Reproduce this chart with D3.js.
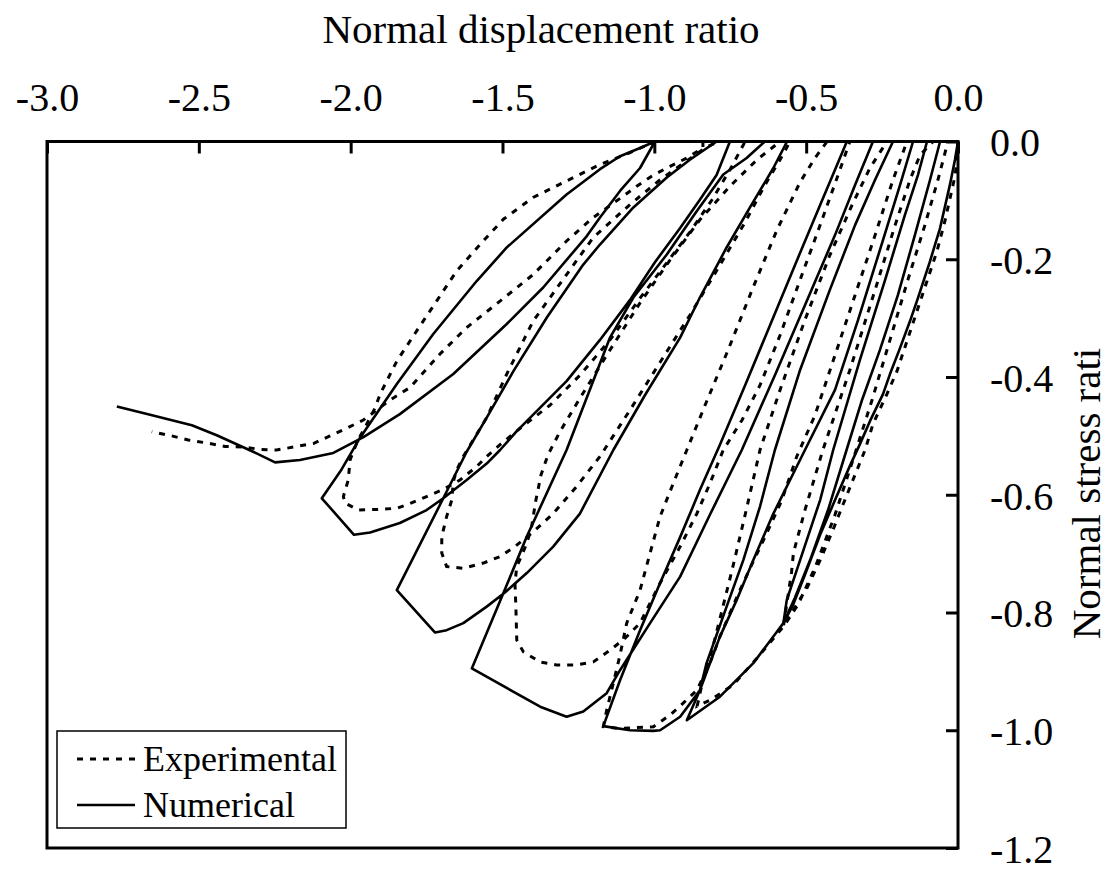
<!DOCTYPE html>
<html><head><meta charset="utf-8">
<script src="https://cdn.jsdelivr.net/npm/d3@7"></script>
<style>body{margin:0;background:#fff}</style>
</head><body>
<svg id="chart" width="1110" height="871"></svg>
<script>
// ---------- axis ticks ----------
const xTicks = [-3, -2.5, -2, -1.5, -1, -0.5, 0];
const xTickLabels = ["-3.0", "-2.5", "-2.0", "-1.5", "-1.0", "-0.5", "0.0"];
const yTicks = [0, -0.2, -0.4, -0.6, -0.8, -1.0, -1.2];
const yTickLabels = ["0.0", "-0.2", "-0.4", "-0.6", "-0.8", "-1.0", "-1.2"];

// ---------- Numerical (solid) : [displacement ratio, stress ratio] ----------
const numEnvelope = [[0,0],[-0.010,-0.031],[-0.026,-0.072],[-0.059,-0.147],[-0.092,-0.203],[-0.132,-0.266],[-0.158,-0.305],[-0.191,-0.351],[-0.224,-0.395],[-0.247,-0.429],[-0.290,-0.475],[-0.323,-0.514],[-0.356,-0.551],[-0.405,-0.609],[-0.454,-0.668],[-0.504,-0.736],[-0.543,-0.787],[-0.575,-0.818]];
const numCycleUnload = [[-0.564,-0.779],[-0.520,-0.711],[-0.454,-0.609],[-0.411,-0.524],[-0.323,-0.371],[-0.240,-0.235],[-0.175,-0.125],[-0.132,-0.057],[-0.102,0]];
const numCycleReload = [[-0.059,0],[-0.092,-0.065],[-0.142,-0.159],[-0.198,-0.261],[-0.257,-0.354],[-0.316,-0.439],[-0.367,-0.524],[-0.428,-0.626],[-0.487,-0.711],[-0.537,-0.775],[-0.575,-0.818]];
const numToPeak5 = [[-0.597,-0.833],[-0.674,-0.886],[-0.784,-0.943],[-0.893,-0.983]];
const numUnload5 = [[-0.850,-0.932],[-0.828,-0.886],[-0.762,-0.790],[-0.707,-0.711],[-0.652,-0.620],[-0.603,-0.524],[-0.520,-0.388],[-0.422,-0.252],[-0.339,-0.142],[-0.273,-0.065],[-0.214,0]];
const numReload4 = [[-0.148,0],[-0.191,-0.074],[-0.257,-0.184],[-0.329,-0.303],[-0.405,-0.422],[-0.504,-0.524],[-0.608,-0.632],[-0.674,-0.711],[-0.729,-0.779],[-0.784,-0.841],[-0.850,-0.932],[-0.915,-0.977],[-0.981,-1.000],[-1.003,-1.001],[-1.080,-1.000],[-1.168,-0.993]];
const numUnload4 = [[-1.113,-0.915],[-1.047,-0.830],[-0.981,-0.750],[-0.915,-0.672],[-0.850,-0.592],[-0.784,-0.515],[-0.701,-0.414],[-0.619,-0.312],[-0.537,-0.210],[-0.454,-0.108],[-0.405,-0.048],[-0.366,0]];
const numReload3 = [[-0.280,0],[-0.339,-0.074],[-0.405,-0.159],[-0.504,-0.278],[-0.603,-0.397],[-0.712,-0.524],[-0.817,-0.634],[-0.915,-0.739],[-1.014,-0.818],[-1.113,-0.898],[-1.157,-0.937],[-1.234,-0.968],[-1.289,-0.977],[-1.376,-0.960],[-1.601,-0.895]];
const numUnload3 = [[-1.497,-0.767],[-1.420,-0.671],[-1.289,-0.524],[-1.146,-0.333],[-1.069,-0.265],[-0.959,-0.192],[-0.860,-0.118],[-0.773,-0.056],[-0.696,-0.028],[-0.636,0]];
const numReload2 = [[-0.563,0],[-0.608,-0.045],[-0.685,-0.112],[-0.762,-0.180],[-0.850,-0.265],[-0.915,-0.333],[-1.031,-0.431],[-1.135,-0.524],[-1.245,-0.632],[-1.333,-0.688],[-1.420,-0.733],[-1.492,-0.766],[-1.552,-0.790],[-1.629,-0.818],[-1.684,-0.830],[-1.722,-0.834],[-1.848,-0.762]];
const numUnload2 = [[-1.695,-0.606],[-1.618,-0.527],[-1.552,-0.469],[-1.464,-0.390],[-1.354,-0.299],[-1.234,-0.209],[-1.179,-0.175],[-1.069,-0.112],[-0.959,-0.061],[-0.883,-0.031],[-0.795,0]];
const numReload1 = [[-0.751,0],[-0.795,-0.057],[-0.850,-0.099],[-0.915,-0.147],[-0.998,-0.205],[-1.080,-0.269],[-1.179,-0.337],[-1.289,-0.407],[-1.453,-0.492],[-1.508,-0.524],[-1.552,-0.547],[-1.618,-0.575],[-1.695,-0.606],[-1.750,-0.626],[-1.838,-0.648],[-1.936,-0.664],[-1.989,-0.668],[-2.095,-0.606]];
const numUnload1 = [[-2.030,-0.557],[-1.969,-0.503],[-1.848,-0.412],[-1.728,-0.327],[-1.585,-0.237],[-1.486,-0.180],[-1.289,-0.090],[-1.179,-0.047],[-1.113,-0.025],[-1.047,-0.011],[-0.998,0]];
const numReloadTail = [[-1.047,-0.045],[-1.113,-0.084],[-1.179,-0.129],[-1.223,-0.161],[-1.366,-0.248],[-1.486,-0.310],[-1.662,-0.395],[-1.838,-0.463],[-1.958,-0.502],[-2.057,-0.529],[-2.167,-0.541],[-2.249,-0.545],[-2.321,-0.527],[-2.441,-0.499],[-2.523,-0.482],[-2.677,-0.462],[-2.770,-0.450]];

// ---------- Experimental (dashed) ----------
const expEnvelope = [[0,0],[-0.003,-0.031],[-0.010,-0.059],[-0.043,-0.135],[-0.069,-0.186],[-0.102,-0.237],[-0.135,-0.288],[-0.168,-0.339],[-0.201,-0.390],[-0.234,-0.429],[-0.280,-0.480],[-0.306,-0.524],[-0.346,-0.575],[-0.379,-0.617],[-0.412,-0.660],[-0.454,-0.711],[-0.497,-0.758],[-0.543,-0.796],[-0.575,-0.824]];
const expCycleUnload = [[-0.548,-0.731],[-0.542,-0.699],[-0.504,-0.626],[-0.445,-0.524],[-0.356,-0.388],[-0.273,-0.252],[-0.207,-0.142],[-0.158,-0.065],[-0.125,-0.023],[-0.082,0]];
const expCycleReload = [[-0.033,0],[-0.066,-0.065],[-0.109,-0.142],[-0.165,-0.235],[-0.224,-0.337],[-0.283,-0.439],[-0.346,-0.541],[-0.405,-0.634],[-0.471,-0.724],[-0.527,-0.787],[-0.575,-0.824]];
const expToPeak5 = [[-0.663,-0.878],[-0.740,-0.923],[-0.817,-0.949],[-0.859,-0.959]];
const expUnload5 = [[-0.840,-0.915],[-0.810,-0.864],[-0.777,-0.796],[-0.744,-0.728],[-0.701,-0.634],[-0.652,-0.524],[-0.586,-0.422],[-0.504,-0.303],[-0.422,-0.193],[-0.349,-0.108],[-0.290,-0.045],[-0.234,0]];
const expReload4 = [[-0.168,0],[-0.214,-0.065],[-0.273,-0.159],[-0.339,-0.261],[-0.405,-0.363],[-0.471,-0.465],[-0.531,-0.535],[-0.580,-0.609],[-0.632,-0.668],[-0.675,-0.714],[-0.718,-0.762],[-0.751,-0.801],[-0.784,-0.841],[-0.817,-0.886],[-0.860,-0.932],[-0.905,-0.954],[-0.948,-0.974],[-1.003,-0.994],[-1.113,-0.997],[-1.168,-0.994]];
const expUnload4 = [[-1.157,-0.966],[-1.135,-0.920],[-1.113,-0.872],[-1.091,-0.818],[-1.047,-0.762],[-1.014,-0.699],[-0.981,-0.637],[-0.938,-0.581],[-0.893,-0.524],[-0.833,-0.448],[-0.757,-0.354],[-0.678,-0.252],[-0.596,-0.150],[-0.520,-0.069],[-0.471,-0.028],[-0.431,0]];
const expReload3 = [[-0.356,0],[-0.395,-0.057],[-0.454,-0.142],[-0.520,-0.235],[-0.586,-0.329],[-0.652,-0.414],[-0.711,-0.473],[-0.773,-0.524],[-0.817,-0.581],[-0.860,-0.632],[-0.915,-0.688],[-0.981,-0.750],[-1.047,-0.818],[-1.097,-0.844],[-1.146,-0.864],[-1.201,-0.884],[-1.256,-0.889],[-1.322,-0.889],[-1.376,-0.884],[-1.431,-0.867],[-1.453,-0.847],[-1.456,-0.790],[-1.459,-0.750],[-1.453,-0.722]];
const expUnload3 = [[-1.426,-0.690],[-1.406,-0.660],[-1.390,-0.609],[-1.373,-0.566],[-1.350,-0.532],[-1.311,-0.493],[-1.245,-0.436],[-1.146,-0.354],[-1.047,-0.274],[-0.948,-0.201],[-0.850,-0.133],[-0.751,-0.076],[-0.662,-0.031],[-0.586,0]];
const expReload2 = [[-0.553,0],[-0.586,-0.031],[-0.636,-0.074],[-0.701,-0.137],[-0.784,-0.210],[-0.883,-0.295],[-0.981,-0.375],[-1.080,-0.456],[-1.179,-0.535],[-1.256,-0.586],[-1.333,-0.632],[-1.399,-0.663],[-1.459,-0.688],[-1.508,-0.705],[-1.563,-0.716],[-1.629,-0.725],[-1.684,-0.722],[-1.700,-0.699],[-1.700,-0.671],[-1.684,-0.637],[-1.667,-0.609],[-1.662,-0.578]];
const expUnload2 = [[-1.651,-0.558],[-1.629,-0.535],[-1.552,-0.469],[-1.486,-0.395],[-1.399,-0.305],[-1.289,-0.226],[-1.201,-0.163],[-1.080,-0.107],[-0.981,-0.065],[-0.899,-0.035],[-0.833,-0.011],[-0.790,0]];
const expReload1 = [[-0.701,0],[-0.751,-0.048],[-0.810,-0.099],[-0.883,-0.154],[-0.965,-0.210],[-1.047,-0.266],[-1.146,-0.337],[-1.245,-0.397],[-1.344,-0.448],[-1.442,-0.487],[-1.508,-0.515],[-1.552,-0.535],[-1.585,-0.552],[-1.640,-0.575],[-1.695,-0.591],[-1.750,-0.603],[-1.805,-0.615],[-1.848,-0.623],[-1.914,-0.625],[-1.975,-0.626],[-2.019,-0.614],[-2.024,-0.603]];
const expUnload1 = [[-2.008,-0.575],[-2.002,-0.541],[-1.976,-0.507],[-1.949,-0.482],[-1.920,-0.453],[-1.903,-0.429],[-1.848,-0.373],[-1.783,-0.322],[-1.717,-0.271],[-1.651,-0.220],[-1.574,-0.175],[-1.497,-0.132],[-1.399,-0.095],[-1.289,-0.067],[-1.179,-0.039],[-1.080,-0.019],[-0.998,0]];
const expReloadTail = [[-0.840,0],[-0.840,-0.011],[-0.893,-0.028],[-0.959,-0.045],[-1.009,-0.059],[-1.058,-0.076],[-1.103,-0.093],[-1.201,-0.129],[-1.289,-0.169],[-1.399,-0.226],[-1.508,-0.271],[-1.618,-0.316],[-1.706,-0.361],[-1.805,-0.418],[-1.870,-0.439],[-1.914,-0.456],[-1.958,-0.473],[-2.013,-0.487],[-2.068,-0.500],[-2.123,-0.513],[-2.178,-0.518],[-2.244,-0.524],[-2.298,-0.523],[-2.353,-0.519],[-2.414,-0.518],[-2.474,-0.512],[-2.535,-0.507],[-2.589,-0.500],[-2.655,-0.493]];

const legendLabels = ["Experimental", "Numerical"];

// ---------- drawing ----------
const W = 1110, H = 871;
const FONT = "'Liberation Serif','Times New Roman',Times,serif";
const plot = {left: 47, right: 958, top: 141.5, bottom: 848};
const svg = d3.select("#chart");
svg.append("rect").attr("width", W).attr("height", H).attr("fill", "#fff");

const x = d3.scaleLinear().domain([-3, 0]).range([plot.left, plot.right]);
const y = d3.scaleLinear().domain([0, -1.2]).range([plot.top, plot.bottom]);
const line = d3.line().x(d => x(d[0])).y(d => y(d[1]));

const numPath = [].concat(numEnvelope, numCycleUnload, numCycleReload, numToPeak5, numUnload5,
  numReload4, numUnload4, numReload3, numUnload3, numReload2, numUnload2, numReload1, numUnload1, numReloadTail);
const expPath = [].concat(expEnvelope, expCycleUnload, expCycleReload, expToPeak5, expUnload5,
  expReload4, expUnload4, expReload3, expUnload3, expReload2, expUnload2, expReload1, expUnload1, expReloadTail);

svg.append("path").datum(expPath).attr("d", line)
  .attr("fill", "none").attr("stroke", "#000").attr("stroke-width", 3)
  .attr("stroke-dasharray", "6,7");
svg.append("path").datum(numPath).attr("d", line)
  .attr("fill", "none").attr("stroke", "#000").attr("stroke-width", 2.6)
  .attr("stroke-linejoin", "round");

// frame
svg.append("rect").attr("x", plot.left).attr("y", plot.top)
  .attr("width", plot.right - plot.left).attr("height", plot.bottom - plot.top)
  .attr("fill", "none").attr("stroke", "#000").attr("stroke-width", 3);

// top axis
const gx = svg.append("g").attr("transform", `translate(0,${plot.top})`)
  .call(d3.axisTop(x).tickValues(xTicks).tickFormat((d, i) => xTickLabels[i])
    .tickSizeInner(-12).tickSizeOuter(0).tickPadding(31));
gx.select(".domain").remove();
gx.selectAll("line").attr("stroke", "#000").attr("stroke-width", 3);
gx.selectAll("text").attr("font-family", FONT).attr("font-size", 40).attr("fill", "#000");

// right axis
const gy = svg.append("g").attr("transform", `translate(${plot.right},0)`)
  .call(d3.axisRight(y).tickValues(yTicks).tickFormat((d, i) => yTickLabels[i])
    .tickSizeInner(-12).tickSizeOuter(0).tickPadding(32));
gy.select(".domain").remove();
gy.selectAll("line").attr("stroke", "#000").attr("stroke-width", 3);
gy.selectAll("text").attr("font-family", FONT).attr("font-size", 40).attr("fill", "#000").attr("dy", "0.36em");

// titles
svg.append("text").attr("x", 541).attr("y", 43).attr("text-anchor", "middle")
  .attr("font-family", FONT).attr("font-size", 41).text("Normal displacement ratio");
svg.append("text").attr("transform", "translate(1100,493.5) rotate(-90)").attr("text-anchor", "middle")
  .attr("font-family", FONT).attr("font-size", 41).text("Normal stress rati");

// legend
const lg = svg.append("g");
lg.append("rect").attr("x", 57).attr("y", 731).attr("width", 289).attr("height", 97)
  .attr("fill", "#fff").attr("stroke", "#000").attr("stroke-width", 1.5);
lg.append("line").attr("x1", 77).attr("x2", 135).attr("y1", 759).attr("y2", 759)
  .attr("stroke", "#000").attr("stroke-width", 3).attr("stroke-dasharray", "6,7");
lg.append("line").attr("x1", 77).attr("x2", 135).attr("y1", 805).attr("y2", 805)
  .attr("stroke", "#000").attr("stroke-width", 2.6);
lg.append("text").attr("x", 143).attr("y", 771).attr("font-family", FONT).attr("font-size", 36).text(legendLabels[0]);
lg.append("text").attr("x", 143).attr("y", 817).attr("font-family", FONT).attr("font-size", 36).text(legendLabels[1]);
</script>
</body></html>
